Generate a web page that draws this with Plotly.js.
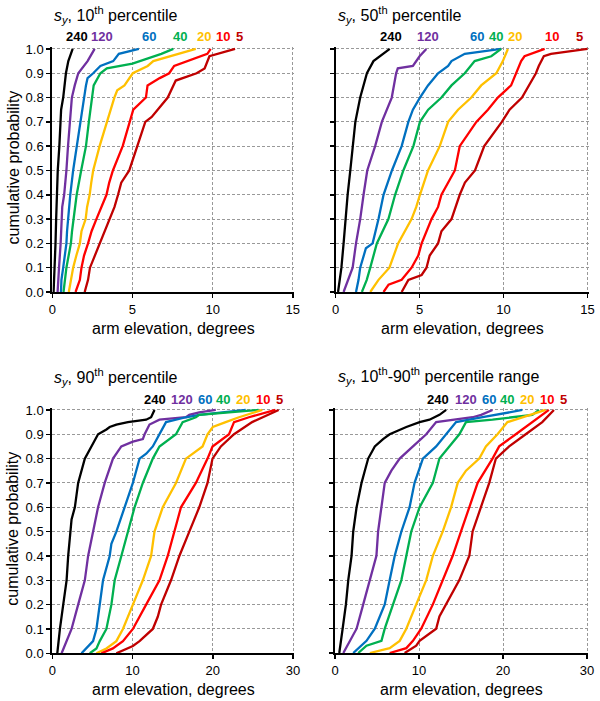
<!DOCTYPE html>
<html>
<head>
<meta charset="utf-8">
<script src="https://cdn.plot.ly/plotly-3.0.1.min.js"></script>
<style>
  html, body { margin: 0; padding: 0; background: #fff; }
  #chart { width: 600px; height: 701px; }
</style>
</head>
<body>
<div id="chart"></div>
<script>
// sample sizes (one curve each)
const sampleSizes = ['240', '120', '60', '40', '20', '10', '5'];

// each point: [cumulative probability, arm elevation (deg)]
// panel 1: s_y 10th percentile
const p10_240 = [[0,0.08],[0.1,0.15],[0.2,0.2],[0.3,0.24],[0.4,0.29],[0.5,0.34],[0.6,0.44],[0.7,0.54],[0.75,0.55],[0.8,0.68],[0.9,0.85],[0.95,1.0],[1.0,1.27]];
const p10_120 = [[0,0.33],[0.05,0.36],[0.1,0.42],[0.2,0.52],[0.3,0.57],[0.35,0.62],[0.4,0.74],[0.45,0.82],[0.5,0.88],[0.6,0.98],[0.7,1.1],[0.8,1.22],[0.85,1.4],[0.9,1.62],[0.95,2.2],[1.0,2.64]];
const p10_60 = [[0,0.54],[0.05,0.57],[0.1,0.68],[0.15,0.78],[0.2,0.88],[0.25,0.92],[0.3,0.98],[0.4,1.12],[0.5,1.3],[0.6,1.53],[0.7,1.72],[0.8,1.95],[0.85,2.1],[0.88,2.2],[0.9,2.55],[0.93,3.0],[0.95,3.8],[0.98,4.15],[1.0,5.4]];
const p10_40 = [[0,0.7],[0.05,0.78],[0.1,0.88],[0.15,1.02],[0.2,1.16],[0.25,1.23],[0.3,1.32],[0.4,1.52],[0.5,1.8],[0.6,2.1],[0.7,2.28],[0.8,2.5],[0.85,2.58],[0.9,3.0],[0.92,3.4],[0.94,5.0],[0.96,5.9],[0.98,6.8],[1.0,7.55]];
const p10_20 = [[0,1.03],[0.05,1.15],[0.1,1.3],[0.15,1.5],[0.2,1.72],[0.25,1.82],[0.3,2.08],[0.35,2.17],[0.4,2.33],[0.45,2.43],[0.5,2.55],[0.6,2.95],[0.7,3.4],[0.8,3.87],[0.83,4.05],[0.85,4.5],[0.9,5.02],[0.93,5.95],[0.95,6.3],[0.97,7.3],[1.0,8.95]];
const p10_10 = [[0,1.45],[0.05,1.72],[0.1,1.82],[0.15,1.98],[0.2,2.23],[0.25,2.45],[0.3,2.75],[0.35,3.05],[0.4,3.38],[0.45,3.55],[0.5,3.78],[0.6,4.39],[0.7,4.8],[0.75,5.05],[0.8,5.84],[0.85,5.94],[0.88,6.7],[0.9,7.29],[0.93,7.6],[0.95,8.43],[0.98,9.67],[1.0,9.88]];
const p10_5 = [[0,2.02],[0.05,2.23],[0.1,2.35],[0.15,2.65],[0.2,2.95],[0.25,3.27],[0.3,3.55],[0.35,3.88],[0.4,4.1],[0.45,4.3],[0.5,4.8],[0.6,5.3],[0.7,5.8],[0.72,6.2],[0.8,7.2],[0.87,7.7],[0.9,9.0],[0.92,9.5],[0.97,9.8],[1.0,11.4]];

// panel 2: s_y 50th percentile
const p50_240 = [[0,0.14],[0.1,0.34],[0.2,0.47],[0.3,0.57],[0.4,0.71],[0.5,0.87],[0.6,1.03],[0.7,1.17],[0.8,1.46],[0.85,1.65],[0.9,1.86],[0.95,2.25],[1.0,3.22]];
const p50_120 = [[0,0.47],[0.05,0.76],[0.1,1.01],[0.2,1.21],[0.3,1.46],[0.4,1.66],[0.5,1.88],[0.6,2.35],[0.7,2.75],[0.8,3.34],[0.85,3.45],[0.9,3.6],[0.92,3.7],[0.93,4.6],[0.97,5.0],[1.0,5.4]];
const p50_60 = [[0,1.21],[0.05,1.36],[0.1,1.46],[0.15,1.66],[0.18,1.8],[0.2,2.2],[0.3,2.55],[0.4,2.85],[0.5,3.35],[0.6,3.93],[0.7,4.33],[0.75,4.6],[0.8,5.02],[0.85,5.5],[0.9,6.1],[0.93,6.7],[0.95,6.9],[0.98,7.69],[1.0,9.86]];
const p50_40 = [[0,1.56],[0.05,1.85],[0.1,2.06],[0.2,2.45],[0.3,3.14],[0.4,3.54],[0.5,4.03],[0.6,4.63],[0.7,5.02],[0.75,5.51],[0.8,6.3],[0.85,6.9],[0.9,7.69],[0.95,8.28],[0.97,9.27],[1.0,9.86]];
const p50_20 = [[0,2.06],[0.05,2.55],[0.1,3.2],[0.2,3.72],[0.3,4.52],[0.35,4.8],[0.4,5.02],[0.5,5.5],[0.6,6.2],[0.7,6.7],[0.75,7.29],[0.8,8.08],[0.85,8.67],[0.9,9.57],[0.95,9.96],[1.0,10.26]];
const p50_10 = [[0,2.85],[0.03,3.15],[0.05,3.93],[0.1,4.52],[0.15,4.92],[0.2,5.12],[0.3,5.71],[0.35,6.1],[0.4,6.3],[0.5,7.1],[0.6,7.39],[0.7,8.38],[0.75,9.07],[0.8,9.66],[0.85,10.45],[0.9,10.75],[0.95,11.05],[0.97,11.25],[1.0,12.45]];
const p50_5 = [[0,3.93],[0.05,4.33],[0.07,5.12],[0.1,5.41],[0.15,5.6],[0.2,6.1],[0.25,6.3],[0.3,6.9],[0.4,7.39],[0.45,7.7],[0.5,8.3],[0.6,8.85],[0.7,9.9],[0.75,10.36],[0.8,11.1],[0.9,11.93],[0.93,12.1],[0.97,12.4],[0.98,12.83],[1.0,15.0]];

// panel 3: s_y 90th percentile
const p90_240 = [[0,0.62],[0.05,0.75],[0.1,0.95],[0.2,1.36],[0.3,1.78],[0.4,1.98],[0.5,2.27],[0.55,2.4],[0.6,2.81],[0.7,3.22],[0.8,4.05],[0.85,4.88],[0.9,5.7],[0.92,6.74],[0.93,7.15],[0.94,7.98],[0.95,9.42],[0.96,11.69],[0.97,12.31],[1.0,12.73]];
const p90_120 = [[0,1.16],[0.05,1.78],[0.1,2.4],[0.2,3.22],[0.3,4.05],[0.4,4.46],[0.5,5.08],[0.6,5.7],[0.7,6.53],[0.8,7.56],[0.85,8.6],[0.87,10.04],[0.88,11.28],[0.9,11.5],[0.94,12.11],[0.96,13.35],[0.97,16.65],[0.98,17.07],[0.99,18.3],[1.0,20.37]];
const p90_60 = [[0,3.64],[0.03,4.46],[0.05,5.08],[0.1,5.5],[0.2,5.91],[0.3,6.32],[0.4,7.15],[0.45,7.36],[0.5,7.98],[0.6,9.0],[0.7,10.04],[0.8,10.87],[0.82,11.7],[0.85,12.52],[0.9,13.35],[0.95,14.17],[0.97,16.65],[0.98,18.3],[1.0,24.1]];
const p90_40 = [[0,4.67],[0.02,5.5],[0.05,5.91],[0.1,6.74],[0.2,7.36],[0.3,7.77],[0.4,8.6],[0.45,9.0],[0.5,9.42],[0.6,10.25],[0.7,11.28],[0.8,12.52],[0.85,13.35],[0.9,15.41],[0.95,16.24],[0.97,17.89],[0.98,18.3],[1.0,25.7]];
const p90_20 = [[0,5.5],[0.02,6.74],[0.05,7.98],[0.1,8.8],[0.2,10.04],[0.3,11.28],[0.4,12.31],[0.5,12.73],[0.6,13.76],[0.7,15.41],[0.8,16.65],[0.85,18.72],[0.9,19.34],[0.93,20.0],[0.95,21.6],[0.97,23.26],[1.0,26.16]];
const p90_10 = [[0,6.12],[0.02,7.55],[0.05,8.8],[0.1,10.04],[0.2,11.69],[0.25,12.52],[0.3,13.35],[0.4,14.38],[0.5,15.21],[0.6,16.03],[0.7,17.89],[0.8,19.34],[0.85,19.96],[0.9,22.02],[0.95,22.64],[0.97,24.5],[1.0,27.8]];
const p90_5 = [[0,7.98],[0.03,10.04],[0.05,10.87],[0.1,12.52],[0.15,13.14],[0.2,13.55],[0.3,14.79],[0.4,15.83],[0.5,17.07],[0.6,18.31],[0.7,19.34],[0.8,19.96],[0.85,21.0],[0.9,22.64],[0.95,24.9],[1.0,28.2]];

// panel 4: s_y 10th-90th percentile range
const rng_240 = [[0,0.51],[0.05,0.67],[0.1,0.91],[0.2,1.3],[0.3,1.58],[0.4,1.97],[0.5,2.17],[0.6,2.57],[0.7,3.16],[0.75,3.55],[0.8,3.95],[0.85,4.74],[0.88,5.72],[0.9,6.51],[0.93,8.49],[0.95,10.07],[0.96,11.25],[0.98,12.43],[1.0,13.23]];
const rng_120 = [[0,0.99],[0.05,1.78],[0.1,2.57],[0.2,3.36],[0.3,4.15],[0.4,4.93],[0.5,5.13],[0.6,5.53],[0.7,5.92],[0.75,6.71],[0.8,7.7],[0.85,9.28],[0.9,10.86],[0.95,12.04],[0.97,16.38],[0.98,17.4],[1.0,18.75]];
const rng_60 = [[0,2.17],[0.03,3.16],[0.05,3.75],[0.1,4.74],[0.2,5.92],[0.3,6.51],[0.4,7.11],[0.5,7.9],[0.6,8.88],[0.7,9.47],[0.8,10.46],[0.85,12.04],[0.9,13.23],[0.95,14.41],[0.97,17.57],[1.0,22.3]];
const rng_40 = [[0,2.76],[0.03,3.75],[0.05,5.53],[0.1,5.92],[0.2,6.91],[0.3,7.9],[0.4,8.49],[0.5,9.08],[0.6,10.07],[0.7,11.65],[0.8,12.43],[0.9,14.8],[0.95,15.59],[0.96,18.75],[0.98,23.49],[1.0,24.28]];
const rng_20 = [[0,4.15],[0.02,6.51],[0.05,7.7],[0.1,8.49],[0.2,9.67],[0.3,10.86],[0.4,11.65],[0.5,12.83],[0.6,13.82],[0.7,14.61],[0.75,15.59],[0.8,17.17],[0.85,17.96],[0.9,19.34],[0.95,20.53],[1.0,25.07]];
const rng_10 = [[0,6.51],[0.02,8.49],[0.05,9.28],[0.1,10.26],[0.2,11.65],[0.3,12.83],[0.4,14.01],[0.5,15.0],[0.6,15.99],[0.7,16.98],[0.8,18.75],[0.85,19.54],[0.9,21.52],[0.95,23.49],[1.0,25.46]];
const rng_5 = [[0,8.29],[0.03,9.67],[0.05,10.07],[0.1,12.04],[0.15,12.43],[0.2,13.23],[0.3,14.8],[0.4,15.99],[0.5,16.38],[0.6,17.37],[0.7,18.36],[0.8,19.15],[0.85,20.73],[0.9,22.7],[0.95,24.67],[1.0,26.06]];

const colores = ['#000000', '#7030A0', '#0070C0', '#00B050', '#FFC000', '#FF0000', '#C00000'];
const FONT = 'Liberation Sans, Arial, sans-serif';

// pixel -> paper helpers (figure is 600x701)
const px = v => v / 600;
const py = v => 1 - v / 701;

const paneles = [
    { series: [p10_240, p10_120, p10_60, p10_40, p10_20, p10_10, p10_5], title: '<i>s<sub>y</sub></i>, 10<sup>th</sup> percentile',
      xd: [52.3, 294], yd: [47, 292], xmax: 15, dtick: 5, ylabels: true, titleX: 52, titleY: 15, labY: 36,
      labX: [77, 102, 149, 180, 204, 223, 239] },
    { series: [p50_240, p50_120, p50_60, p50_40, p50_20, p50_10, p50_5], title: '<i>s<sub>y</sub></i>, 50<sup>th</sup> percentile',
      xd: [335.7, 588.7], yd: [47, 292], xmax: 15, dtick: 5, ylabels: false, titleX: 336, titleY: 15, labY: 36,
      labX: [391, 428, 477, 496, 515, 552, 579] },
    { series: [p90_240, p90_120, p90_60, p90_40, p90_20, p90_10, p90_5], title: '<i>s<sub>y</sub></i>, 90<sup>th</sup> percentile',
      xd: [52.3, 294.3], yd: [408, 653.3], xmax: 30, dtick: 10, ylabels: true, titleX: 52, titleY: 377, labY: 399,
      labX: [155, 182, 205, 223, 243, 263, 279] },
    { series: [rng_240, rng_120, rng_60, rng_40, rng_20, rng_10, rng_5], title: '<i>s<sub>y</sub></i>, 10<sup>th</sup>-90<sup>th</sup> percentile range',
      xd: [335, 588.3], yd: [408, 653], xmax: 30, dtick: 10, ylabels: false, titleX: 336, titleY: 376, labY: 399,
      labX: [438, 466, 489, 507, 527, 547, 563] }
];

const data = [];
const layout = {
    width: 600, height: 701, margin: { t: 0, b: 0, l: 0, r: 0 },
    paper_bgcolor: '#ffffff', plot_bgcolor: '#ffffff', showlegend: false,
    font: { family: FONT, color: '#000' },
    annotations: []
};

paneles.forEach((p, i) => {
    const n = i === 0 ? '' : String(i + 1);
    p.series.forEach((s, k) => {
        data.push({
            x: s.map(d => d[1]), y: s.map(d => d[0]),
            xaxis: 'x' + n, yaxis: 'y' + n,
            type: 'scatter', mode: 'lines', name: sampleSizes[k],
            line: { color: colores[k], width: 2.3 }, hoverinfo: 'skip'
        });
    });
    layout['xaxis' + n] = {
        domain: [px(p.xd[0]), px(p.xd[1])], anchor: 'y' + n,
        range: [0, p.xmax * 1.005], tick0: 0, dtick: p.dtick,
        showline: true, linecolor: '#000', linewidth: 2,
        ticks: 'outside', ticklen: 4, tickwidth: 1.5, tickcolor: '#000',
        showgrid: true, gridcolor: '#999999', griddash: '3px,2px', gridwidth: 1,
        zeroline: false, tickfont: { size: 13, family: FONT, color: '#000' }, fixedrange: true
    };
    layout['yaxis' + n] = {
        domain: [py(p.yd[1]), py(p.yd[0])], anchor: 'x' + n,
        range: [0, 1.008], tick0: 0, dtick: 0.1, tickformat: '.1f',
        showticklabels: p.ylabels,
        showline: true, linecolor: '#000', linewidth: 2,
        ticks: 'outside', ticklen: 4, tickwidth: 1.5, tickcolor: '#000',
        showgrid: true, gridcolor: '#999999', griddash: '3px,2px', gridwidth: 1,
        zeroline: false, tickfont: { size: 13, family: FONT, color: '#000' }, fixedrange: true
    };
    // panel title
    layout.annotations.push({
        xref: 'paper', yref: 'paper', x: px(p.titleX), y: py(p.titleY), xanchor: 'left', yanchor: 'middle',
        text: p.title, showarrow: false, font: { size: 16, family: FONT, color: '#000' }
    });
    // curve labels
    sampleSizes.forEach((lab, k) => {
        layout.annotations.push({
            xref: 'paper', yref: 'paper', x: px(p.labX[k]), y: py(p.labY), xanchor: 'center', yanchor: 'middle',
            text: '<b>' + lab + '</b>', showarrow: false, font: { size: 13, family: FONT, color: colores[k] }
        });
    });
    // x axis title
    layout.annotations.push({
        xref: 'paper', yref: 'paper', x: px((p.xd[0] + p.xd[1]) / 2), y: py(p.yd[1] + 36), xanchor: 'center', yanchor: 'middle',
        text: 'arm elevation, degrees', showarrow: false, font: { size: 16, family: FONT, color: '#000' }
    });
    if (p.ylabels) {
        layout.annotations.push({
            xref: 'paper', yref: 'paper', x: px(13), y: py((p.yd[0] + p.yd[1]) / 2 - 2), xanchor: 'center', yanchor: 'middle',
            text: 'cumulative probability', textangle: -90, showarrow: false, font: { size: 16, family: FONT, color: '#000' }
        });
    }
});

Plotly.newPlot('chart', data, layout, { displayModeBar: false, staticPlot: true });
</script>
</body>
</html>
